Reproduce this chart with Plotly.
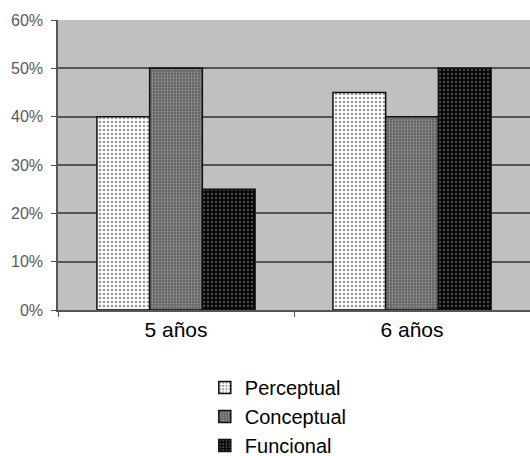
import plotly.graph_objects as go

categories = ["5 años", "6 años"]
series_names = ["Perceptual", "Conceptual", "Funcional"]
perceptual = [0.40, 0.45]
conceptual = [0.50, 0.40]
funcional = [0.25, 0.50]
y_tickvals = [0, 0.1, 0.2, 0.3, 0.4, 0.5, 0.6]
y_ticktext = ["0%", "10%", "20%", "30%", "40%", "50%", "60%"]

styles = [
    dict(bg="#ffffff", fg="#9a9a9a", size=4, sol=0.35),
    dict(bg="#5e5e5e", fg="#8f8f8f", size=3, sol=0.45),
    dict(bg="#050505", fg="#4a4a4a", size=4, sol=0.3),
]

fig = go.Figure()
for name, vals, st in zip(series_names, [perceptual, conceptual, funcional], styles):
    fig.add_trace(go.Bar(
        name=name, x=categories, y=vals,
        marker=dict(
            color=st["bg"],
            line=dict(color="#111111", width=1.5),
            pattern=dict(shape=".", bgcolor=st["bg"], fgcolor=st["fg"],
                         size=st["size"], solidity=st["sol"], fillmode="replace"),
        ),
    ))

fig.update_layout(
    width=530, height=456,
    margin=dict(l=58, r=0, t=20, b=146, autoexpand=False),
    paper_bgcolor="white",
    plot_bgcolor="#c0c0c0",
    barmode="group",
    bargap=0.33,
    bargroupgap=0,
    font=dict(family="Liberation Sans, Arial, sans-serif", color="#000000"),
    showlegend=True,
    legend=dict(
        x=0.311, y=-0.2, xanchor="left", yanchor="top",
        orientation="v", font=dict(size=20, color="#000000"),
        bgcolor="rgba(0,0,0,0)",
    ),
    xaxis=dict(
        tickson="boundaries", ticks="outside", ticklen=5, tickcolor="#555555",
        showline=True, linecolor="#555555", linewidth=1.5,
        tickfont=dict(size=21, color="#000000"),
        showgrid=False, automargin=False,
    ),
    yaxis=dict(
        range=[0, 0.6], tickvals=y_tickvals, ticktext=y_ticktext,
        ticks="outside", ticklen=5, tickcolor="#555555",
        showline=True, linecolor="#555555", linewidth=1.5,
        gridcolor="#555555", gridwidth=1.5,
        tickfont=dict(size=16, color="#5a5a5a"),
        ticklabelstandoff=5,
        zeroline=False, automargin=False,
    ),
)

fig.write_html(
    "out.html",
    config={"displayModeBar": False},
    post_script="document.body.style.margin='0';document.body.style.overflow='hidden';",
)
